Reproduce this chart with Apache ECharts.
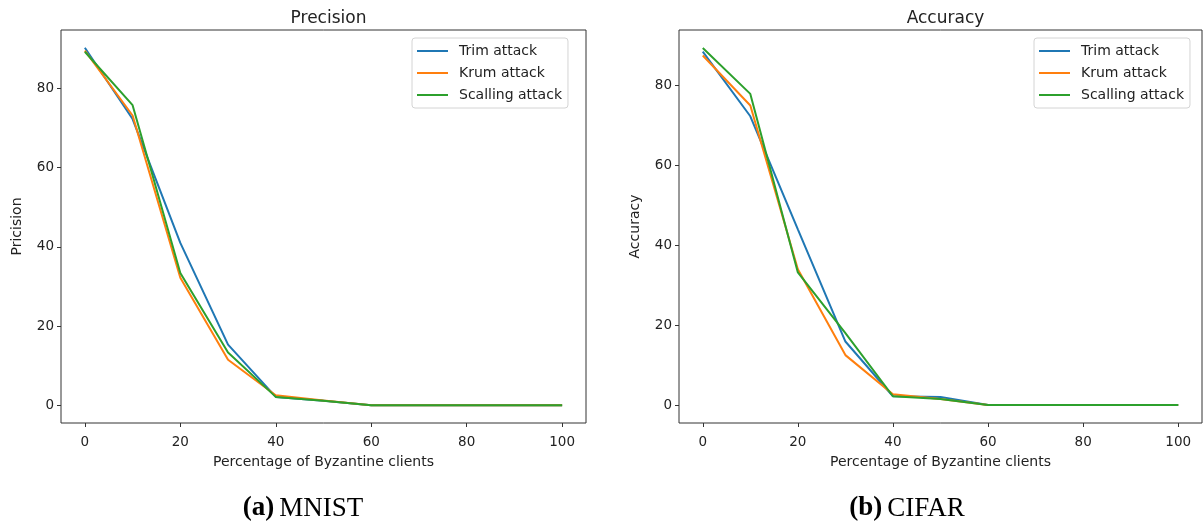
<!DOCTYPE html>
<html>
<head>
<meta charset="utf-8">
<script src="https://cdn.jsdelivr.net/npm/echarts@6/dist/echarts.min.js"></script>
<style>
  html, body { margin: 0; padding: 0; background: #fff; }
  #main { width: 1203px; height: 527px; }
</style>
</head>
<body>
<div id="main"></div>
<script>
// percentage of byzantine clients
var clients = [0, 10, 20, 30, 40, 50, 60, 70, 80, 90, 100];

// (a) MNIST - precision
var mnistTrim    = [90.3, 72.3, 41.0, 15.3, 2.1, 1.1, 0, 0, 0, 0, 0];
var mnistKrum    = [89.6, 73.2, 32.2, 11.5, 2.5, 1.2, 0, 0, 0, 0, 0];
var mnistScaling = [89.3, 75.8, 33.4, 13.3, 2.1, 1.1, 0, 0, 0, 0, 0];

// (b) CIFAR - accuracy
var cifarTrim    = [88.5, 72.3, 44.0, 15.9, 2.2, 2.0, 0, 0, 0, 0, 0];
var cifarKrum    = [87.5, 75.0, 34.0, 12.5, 2.7, 1.5, 0, 0, 0, 0, 0];
var cifarScaling = [89.4, 77.9, 33.2, 18.0, 2.2, 1.5, 0, 0, 0, 0, 0];

var xTicks = [0, 20, 40, 60, 80, 100];
var yTicks = [0, 20, 40, 60, 80];

var names = ['Trim attack', 'Krum attack', 'Scalling attack'];
var colors = ['#1f77b4', '#ff7f0e', '#2ca02c'];

function pairs(ys) {
    return clients.map(function (x, i) { return [x, ys[i]]; });
}

var txt = '#222';
var font = 'DejaVu Sans';

function xAxisFor(idx) {
    return {
        type: 'value', gridIndex: idx, min: -5, max: 105, position: 'bottom',
        name: 'Percentage of Byzantine clients',
        nameLocation: 'middle', nameGap: 32,
        nameTextStyle: { color: txt, fontSize: 14, fontFamily: font },
        splitLine: { show: false },
        axisLine: { show: false, onZero: false },
        axisTick: { show: true, inside: false, length: 4, customValues: xTicks,
                    lineStyle: { color: '#333' } },
        axisLabel: { customValues: xTicks, margin: 12, color: txt, fontSize: 13.5, fontFamily: font }
    };
}

function yAxisFor(idx, label, max) {
    return {
        type: 'value', gridIndex: idx, min: -4.5, max: max, position: 'left',
        name: label, nameLocation: 'middle', nameGap: 37, nameRotate: 90,
        nameTextStyle: { color: txt, fontSize: 14, fontFamily: font },
        splitLine: { show: false },
        axisLine: { show: false, onZero: false },
        axisTick: { show: true, inside: false, length: 4, customValues: yTicks,
                    lineStyle: { color: '#333' } },
        axisLabel: { customValues: yTicks, margin: 7, color: txt, fontSize: 13.5, fontFamily: font }
    };
}

function lines(idx, sets) {
    return sets.map(function (ys, k) {
        return {
            name: names[k], type: 'line', xAxisIndex: idx, yAxisIndex: idx,
            data: pairs(ys), symbol: 'none', animation: false,
            lineStyle: { width: 2, color: colors[k] },
            itemStyle: { color: colors[k] }
        };
    });
}

function legendAt(left) {
    return {
        orient: 'vertical', left: left, top: 38,
        data: names, selectedMode: false,
        icon: 'path://M0,0L62,0L62,4L0,4Z',
        itemWidth: 31, itemHeight: 14, itemGap: 8,
        padding: [6, 6, 6, 5],
        borderColor: '#d4d4d4', borderWidth: 1, borderRadius: 3,
        backgroundColor: 'rgba(255,255,255,0.8)',
        textStyle: { color: txt, fontSize: 14, fontFamily: font, padding: [0, 0, 0, 6] }
    };
}

function caption(tag, label, cx) {
    return {
        text: '{b|' + tag + '} {n|' + label + '}', left: cx, textAlign: 'center', top: 490,
        textStyle: { rich: {
            b: { fontFamily: 'Liberation Serif', fontWeight: 'bold', fontSize: 27, color: '#000' },
            n: { fontFamily: 'Liberation Serif', fontWeight: 'normal', fontSize: 27, color: '#000' } } }
    };
}

var chart = echarts.init(document.getElementById('main'));

chart.setOption({
    animation: false,
    color: colors,
    title: [
        { text: 'Precision', left: 323.5, textAlign: 'center', top: 5,
          textStyle: { color: txt, fontSize: 17, fontWeight: 'normal', fontFamily: font } },
        { text: 'Accuracy', left: 940.5, textAlign: 'center', top: 5,
          textStyle: { color: txt, fontSize: 17, fontWeight: 'normal', fontFamily: font } },
        caption('(a)', 'MNIST', 298),
        caption('(b)', 'CIFAR', 902)
    ],
    legend: [legendAt(412), legendAt(1034)],
    grid: [
        { left: 61, top: 30, width: 525, height: 393, show: true,
          borderColor: '#333', borderWidth: 1, backgroundColor: '#fff' },
        { left: 679, top: 30, width: 523, height: 393, show: true,
          borderColor: '#333', borderWidth: 1, backgroundColor: '#fff' }
    ],
    xAxis: [xAxisFor(0), xAxisFor(1)],
    yAxis: [yAxisFor(0, 'Pricision', 94.8), yAxisFor(1, 'Accuracy', 93.9)],
    series: lines(0, [mnistTrim, mnistKrum, mnistScaling])
        .concat(lines(1, [cifarTrim, cifarKrum, cifarScaling]))
});
</script>
</body>
</html>
